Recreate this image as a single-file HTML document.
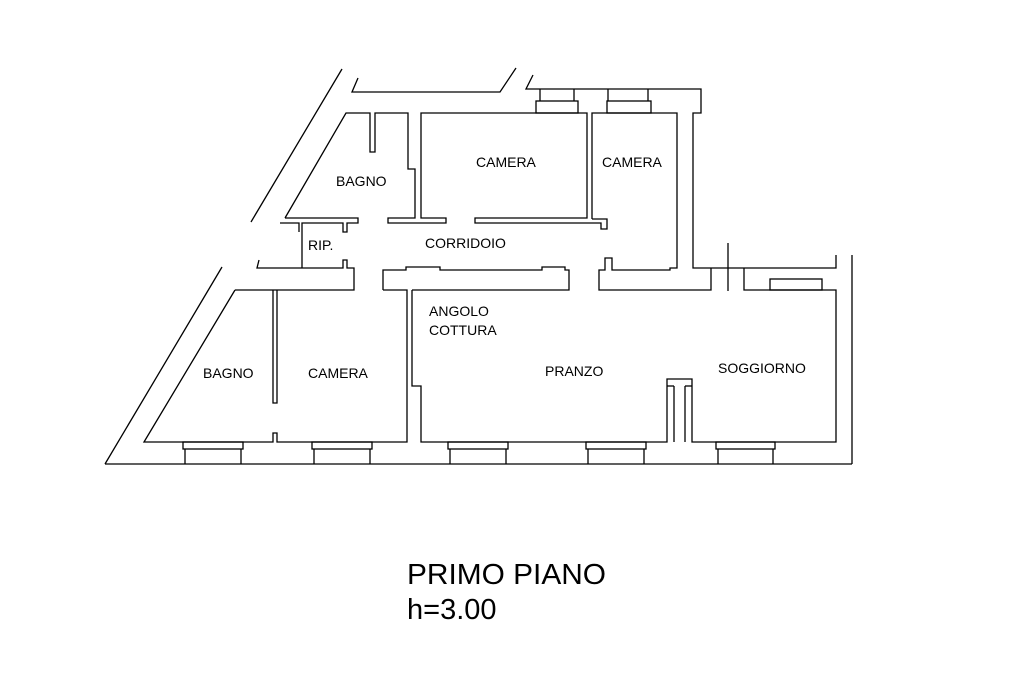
<!DOCTYPE html>
<html><head><meta charset="utf-8"><style>
html,body{margin:0;padding:0;background:#fff;width:1024px;height:682px;overflow:hidden}
svg{display:block}
text{font-family:"Liberation Sans",Arial,sans-serif;fill:#000}
</style></head><body>
<svg width="1024" height="682" viewBox="0 0 1024 682" xmlns="http://www.w3.org/2000/svg">
<g fill="none" stroke="#000" stroke-width="1.3" stroke-linejoin="miter">
<line x1="342" y1="69" x2="251" y2="222"/>
<line x1="222" y1="267" x2="105" y2="464"/>
<polyline points="358,78 352,92 500,92 516,68"/>
<polyline points="533,75 526,89 701,89 701,113 693,113 693,268 836,268 836,255"/>
<line x1="852" y1="255" x2="852" y2="464"/>
<line x1="105" y1="464" x2="852" y2="464"/>
<line x1="728" y1="243" x2="728" y2="291"/>
<rect x="536" y="101" width="42" height="12"/>
<polyline points="540,101 540,89"/><polyline points="574,101 574,89"/>
<rect x="607" y="101" width="44" height="12"/>
<polyline points="608,101 608,89"/><polyline points="648,101 648,89"/>
<polyline points="285,218 346,113 370,113 370,152 375,152 375,113 408,113 408,169 415,169 415,218 388,218 388,223 446,223 446,218 421,218 421,113 587,113 587,218 475,218 475,223 601,223 601,229 607,229 607,219 592,219"/>
<polyline points="285,218 358,218 358,223 347,223 347,232 343,232 343,223 302,223 302,268"/>
<polyline points="280,223 299,223 299,232"/>
<polyline points="592,219 592,113 677,113 677,268 670,268 670,270 612,270 612,258 605,258 605,270 599,270 599,290 711,290 711,268"/>
<polyline points="259,260 257,268 343,268 343,260 347,260 347,268 354,268 354,290 235,290"/>
<polyline points="383,290 383,270 406,270 406,267 440,267 440,270 542,270 542,267 565,267 565,270 569,270 569,290 412,290"/>
<polyline points="744,268 744,290 836,290 836,442 692,442 692,379 667,379 667,442 421,442 421,386 412,386 412,290"/>
<rect x="770" y="279" width="52" height="11"/>
<line x1="674" y1="386" x2="674" y2="442"/><line x1="685" y1="386" x2="685" y2="442"/>
<line x1="667" y1="386" x2="674" y2="386"/><line x1="685" y1="386" x2="692" y2="386"/>
<polyline points="235,290 144,442 273,442 273,433 277,433 277,442 407,442 407,290 383,290"/>
<polyline points="273,290 273,403 277,403 277,290"/>
<g>
<rect x="183" y="442" width="60" height="7"/><line x1="185" y1="449" x2="185" y2="464"/><line x1="241" y1="449" x2="241" y2="464"/>
<rect x="312" y="442" width="60" height="7"/><line x1="314" y1="449" x2="314" y2="464"/><line x1="370" y1="449" x2="370" y2="464"/>
<rect x="448" y="442" width="60" height="7"/><line x1="450" y1="449" x2="450" y2="464"/><line x1="506" y1="449" x2="506" y2="464"/>
<rect x="586" y="442" width="60" height="7"/><line x1="588" y1="449" x2="588" y2="464"/><line x1="644" y1="449" x2="644" y2="464"/>
<rect x="716" y="442" width="59" height="7"/><line x1="718" y1="449" x2="718" y2="464"/><line x1="773" y1="449" x2="773" y2="464"/>
</g>
</g>
<g font-size="14">
<text x="336" y="186">BAGNO</text>
<text x="476" y="167">CAMERA</text>
<text x="602" y="167">CAMERA</text>
<text x="308" y="250">RIP.</text>
<text x="425" y="248">CORRIDOIO</text>
<text x="203" y="378">BAGNO</text>
<text x="308" y="378">CAMERA</text>
<text x="429" y="316">ANGOLO</text>
<text x="429" y="335">COTTURA</text>
<text x="545" y="376">PRANZO</text>
<text x="718" y="373">SOGGIORNO</text>
</g>
<text x="407" y="584" font-size="29" textLength="199" lengthAdjust="spacingAndGlyphs">PRIMO PIANO</text>
<text x="407" y="619" font-size="29">h=3.00</text>
</svg>
</body></html>
